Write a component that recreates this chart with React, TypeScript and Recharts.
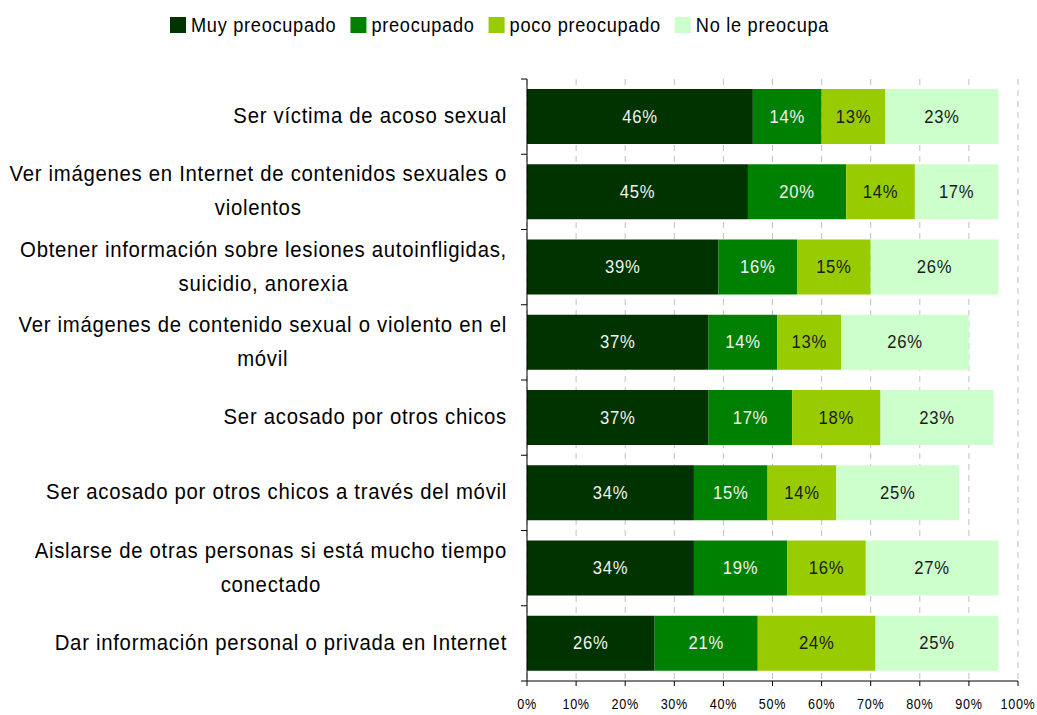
import { BarChart, Bar, XAxis, YAxis, CartesianGrid, Legend, LabelList } from "recharts";

const categories = [
  "Ser víctima de acoso sexual",
  "Ver imágenes en Internet de contenidos sexuales o\nviolentos",
  "Obtener información sobre lesiones autoinfligidas,\nsuicidio, anorexia",
  "Ver imágenes de contenido sexual o violento en el\nmóvil",
  "Ser acosado por otros chicos",
  "Ser acosado por otros chicos a través del móvil",
  "Aislarse de otras personas si está mucho tiempo\nconectado",
  "Dar información personal o privada en Internet",
];

const muyPreocupado = [46, 45, 39, 37, 37, 34, 34, 26];
const preocupado = [14, 20, 16, 14, 17, 15, 19, 21];
const pocoPreocupado = [13, 14, 15, 13, 18, 14, 16, 24];
const noLePreocupa = [23, 17, 26, 26, 23, 25, 27, 25];

const xTicks = [0, 10, 20, 30, 40, 50, 60, 70, 80, 90, 100];

const series = [
  { key: "muy", name: "Muy preocupado", color: "#003300", label: "#f2f2f2" },
  { key: "pre", name: "preocupado", color: "#008000", label: "#f2f2f2" },
  { key: "poco", name: "poco preocupado", color: "#99CC00", label: "#1a1a1a" },
  { key: "no", name: "No le preocupa", color: "#CCFFCC", label: "#1a1a1a" },
];

const data = categories.map((name, i) => ({
  name,
  muy: muyPreocupado[i],
  pre: preocupado[i],
  poco: pocoPreocupado[i],
  no: noLePreocupa[i],
}));

// Arial Narrow look: Liberation Sans squeezed horizontally
const FAMILY = "'Liberation Sans', Arial, sans-serif";
const SX = 0.9;
const LS = 0.8;
const CAT_SIZE = 22.6;
const PLOT_TOP = 79;
const PLOT_BOTTOM = 681;
const BAND = (PLOT_BOTTOM - PLOT_TOP) / categories.length;

let ctx: CanvasRenderingContext2D | null = null;
const measure = (text: string, size: number) => {
  if (!ctx) ctx = document.createElement("canvas").getContext("2d");
  if (!ctx) return text.length * size * 0.45;
  ctx.font = `${size}px ${FAMILY}`;
  return (ctx.measureText(text).width + LS * text.length) * SX;
};

const NarrowText = ({ x, y, size, anchor = "start", fill = "#000", dy = "0.33em", children }: any) => (
  <text
    transform={`translate(${x},${y}) scale(${SX},1)`}
    textAnchor={anchor}
    fontSize={size}
    fontFamily={FAMILY}
    letterSpacing={LS}
    fill={fill}
    dy={dy}
  >
    {children}
  </text>
);

const CategoryTick = (props: any) => {
  const { x, y, payload, index } = props;
  const lines: string[] = String(payload.value).split("\n");
  const lineGap = 34;
  const start = y - 1 - ((lines.length - 1) * lineGap) / 2;
  const axisX = x;
  const right = axisX - 20;
  const maxW = Math.max(...lines.map((l) => measure(l, CAT_SIZE)));
  return (
    <g>
      {lines.map((l, i) => (
        <NarrowText key={i} x={lines.length > 1 ? right - maxW / 2 : right} y={start + i * lineGap} size={CAT_SIZE} anchor={lines.length > 1 ? "middle" : "end"}>
          {l}
        </NarrowText>
      ))}
      <line x1={axisX - 6} x2={axisX} y1={y - BAND / 2} y2={y - BAND / 2} stroke="#000" />
      {index === categories.length - 1 && (
        <line x1={axisX - 6} x2={axisX} y1={y + BAND / 2} y2={y + BAND / 2} stroke="#000" />
      )}
    </g>
  );
};

const PercentTick = (props: any) => {
  const { x, y, payload } = props;
  return (
    <NarrowText x={x} y={y} size={14} anchor="middle" dy="0.71em">
      {`${payload.value}%`}
    </NarrowText>
  );
};

const renderLegend = () => {
  let cursor = 170;
  const items = series.map((s) => {
    const w = measure(s.name, 20.2);
    const item = { ...s, x: cursor, w };
    cursor += 16 + 5 + w + 14;
    return item;
  });
  return (
    <svg width={1037} height={40}>
      {items.map((it) => (
        <g key={it.key}>
          <rect x={it.x} y={8} width={16} height={16} fill={it.color} />
          <NarrowText x={it.x + 21} y={16} size={20.2}>
            {it.name}
          </NarrowText>
        </g>
      ))}
    </svg>
  );
};

const makeLabel = (color: string) => (props: any) => {
  const { x, y, width, height, value } = props;
  return (
    <NarrowText x={x + width / 2} y={y + height / 2} size={18.5} anchor="middle" fill={color}>
      {`${value}%`}
    </NarrowText>
  );
};

export default function App() {
  return (
    <div style={{ position: "absolute", left: 0, top: 0, background: "#fff" }}>
      <BarChart
        width={1037}
        height={715}
        data={data}
        layout="vertical"
        margin={{ top: PLOT_TOP, right: 19, left: 0, bottom: 0 }}
      >
        <CartesianGrid horizontal={false} stroke="#c0c0c0" strokeDasharray="6 5" />
        <XAxis
          type="number"
          domain={[0, 100]}
          ticks={xTicks}
          height={715 - PLOT_BOTTOM}
          stroke="#000"
          tickSize={5}
          tickMargin={13}
          tick={<PercentTick />}
          interval={0}
        />
        <YAxis
          type="category"
          dataKey="name"
          width={527}
          stroke="#000"
          tickLine={false}
          tickSize={0}
          tickMargin={0}
          tick={<CategoryTick />}
          interval={0}
        />
        <Legend
          content={renderLegend}
          verticalAlign="middle"
          wrapperStyle={{ top: 9, left: 0, width: 1037 }}
        />
        {series.map((s) => (
          <Bar key={s.key} dataKey={s.key} name={s.name} stackId="a" fill={s.color} barSize={55} isAnimationActive={false}>
            <LabelList dataKey={s.key} content={makeLabel(s.label)} />
          </Bar>
        ))}
      </BarChart>
    </div>
  );
}
